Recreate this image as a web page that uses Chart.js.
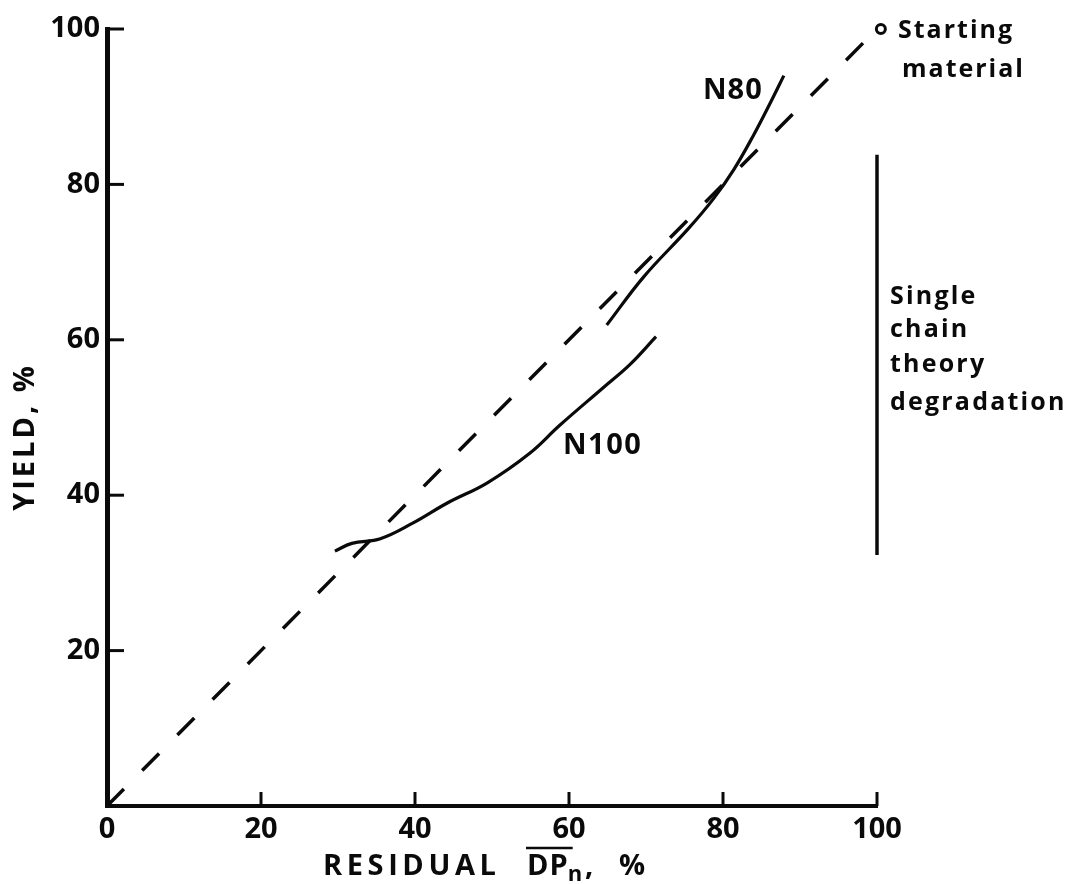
<!DOCTYPE html>
<html>
<head>
<meta charset="utf-8">
<script src="https://cdn.jsdelivr.net/npm/chart.js@4.4.0/dist/chart.umd.min.js"></script>
<style>
  html, body { margin: 0; padding: 0; background: #fff; }
  canvas { display: block; }
</style>
</head>
<body>
<canvas id="c" width="1083" height="884"></canvas>
<script>
// ---- data ----
const xTicks = [0, 20, 40, 60, 80, 100];
const yTicks = [20, 40, 60, 80, 100];

// dashed ideal (random scission) line
const idealX = [0, 100];
const idealY = [0, 100];

// N100 curve
const n100X = [29.6, 31.8, 35.5, 39.7, 44.2, 49.4, 54.9, 58.8, 64.4, 67.9, 71.3];
const n100Y = [32.8, 33.8, 34.4, 36.4, 39.0, 41.6, 45.4, 49.0, 53.8, 56.8, 60.4];

// N80 curve
const n80X = [64.9, 69.7, 75.5, 78.8, 81.4, 84.0, 86.3, 87.9];
const n80Y = [61.9, 68.1, 74.3, 78.2, 81.9, 86.4, 90.8, 94.0];

// single chain theory degradation (vertical bar)
const singleX = [100, 100];
const singleY = [32.3, 83.8];

// starting material point
const startX = [100.5];
const startY = [100];

const toPts = (xs, ys) => xs.map((x, i) => ({ x: x, y: ys[i] }));

const FONT = "'Open Sans', 'DejaVu Sans', sans-serif";
const INK = '#0a0a0a';

function drawSpaced(ctx, text, x, y, spacing) {
  ctx.letterSpacing = spacing + 'px';
  ctx.fillText(text, x, y);
  const w = ctx.measureText(text).width;
  ctx.letterSpacing = '0px';
  return w;
}

const decor = {
  id: 'decor',
  afterDraw(chart) {
    const ctx = chart.ctx;
    const xs = chart.scales.x, ys = chart.scales.y;
    const ca = chart.chartArea;
    ctx.save();
    ctx.strokeStyle = INK;
    ctx.fillStyle = INK;
    ctx.lineCap = 'butt';
    // inward tick marks
    ctx.lineWidth = 3;
    yTicks.forEach(v => {
      const py = ys.getPixelForValue(v);
      ctx.beginPath();
      ctx.moveTo(ca.left, py);
      ctx.lineTo(ca.left + 17, py);
      ctx.stroke();
    });
    xTicks.filter(v => v > 0).forEach(v => {
      const px = xs.getPixelForValue(v);
      ctx.beginPath();
      ctx.moveTo(px, ca.bottom);
      ctx.lineTo(px, ca.bottom - 14);
      ctx.stroke();
    });

    // y axis title
    ctx.save();
    ctx.translate(26, 437);
    ctx.rotate(-Math.PI / 2);
    ctx.font = '700 29px ' + FONT;
    ctx.textAlign = 'center';
    ctx.textBaseline = 'middle';
    ctx.letterSpacing = '3px';
    ctx.fillText('YIELD, %', 0, 0);
    ctx.restore();

    // x axis title: RESIDUAL DP̄n, %
    ctx.textAlign = 'left';
    ctx.textBaseline = 'alphabetic';
    ctx.font = '700 29px ' + FONT;
    const base = 875;
    drawSpaced(ctx, 'RESIDUAL', 323, base, 4.6);
    const dpStart = 527;
    const wdp = drawSpaced(ctx, 'DP', dpStart, base, 1);
    ctx.font = '700 22px ' + FONT;
    drawSpaced(ctx, 'n', dpStart + wdp - 1, base + 6, 0);
    ctx.lineWidth = 2.5;
    ctx.beginPath();
    ctx.moveTo(dpStart - 1, 848);
    ctx.lineTo(dpStart + wdp + 4, 848);
    ctx.stroke();
    ctx.font = '700 29px ' + FONT;
    drawSpaced(ctx, ',', 585, base, 0);
    drawSpaced(ctx, '%', 619, base, 0);

    // curve labels
    ctx.font = '700 29px ' + FONT;
    ctx.textBaseline = 'middle';
    drawSpaced(ctx, 'N80', 703, 91, 1);
    drawSpaced(ctx, 'N100', 563, 446, 1.5);

    // starting material
    ctx.font = '700 25px ' + FONT;
    drawSpaced(ctx, 'Starting', 898, 31, 2);
    drawSpaced(ctx, 'material', 902, 70, 2);

    // single chain theory degradation
    ctx.font = '700 25px ' + FONT;
    const lines = ['Single', 'chain', 'theory', 'degradation'];
    const bases = [297, 330, 365, 403];
    lines.forEach((t, i) => drawSpaced(ctx, t, 890, bases[i], 2.2));
    ctx.restore();
  }
};

new Chart(document.getElementById('c'), {
  type: 'scatter',
  data: {
    datasets: [
      {
        label: 'ideal',
        data: toPts(idealX, idealY),
        showLine: true,
        borderColor: INK,
        borderWidth: 3.5,
        borderDash: [24, 26],
        pointRadius: 0,
        clip: false
      },
      {
        label: 'N100',
        data: toPts(n100X, n100Y),
        showLine: true,
        borderColor: INK,
        borderWidth: 3.2,
        tension: 0.4,
        pointRadius: 0,
        clip: false
      },
      {
        label: 'N80',
        data: toPts(n80X, n80Y),
        showLine: true,
        borderColor: INK,
        borderWidth: 3.2,
        tension: 0.4,
        pointRadius: 0,
        clip: false
      },
      {
        label: 'single chain',
        data: toPts(singleX, singleY),
        showLine: true,
        borderColor: INK,
        borderWidth: 3.5,
        pointRadius: 0,
        clip: false
      },
      {
        label: 'start',
        data: toPts(startX, startY),
        showLine: false,
        pointRadius: 4.5,
        borderWidth: 3,
        borderColor: INK,
        backgroundColor: '#fff',
        clip: false
      }
    ]
  },
  options: {
    responsive: false,
    animation: false,
    devicePixelRatio: 1,
    layout: { padding: { top: 29, right: 206, left: 0, bottom: 0 } },
    plugins: { legend: { display: false }, tooltip: { enabled: false } },
    scales: {
      x: {
        type: 'linear',
        min: 0, max: 100,
        afterBuildTicks: s => { s.ticks = xTicks.map(v => ({ value: v })); },
        afterFit: s => { s.height = 78; },
        grid: { display: false, drawTicks: false },
        border: { display: true, color: INK, width: 4 },
        ticks: {
          color: INK,
          padding: 6,
          maxRotation: 0,
          autoSkip: false,
          font: { family: FONT, size: 29, weight: '700' },
          callback: v => String(v)
        }
      },
      y: {
        type: 'linear',
        min: 0, max: 100,
        afterBuildTicks: s => { s.ticks = yTicks.map(v => ({ value: v })); },
        afterFit: s => { s.width = 107; },
        grid: { display: false, drawTicks: false },
        border: { display: true, color: INK, width: 5 },
        ticks: {
          color: INK,
          padding: 7,
          autoSkip: false,
          font: { family: FONT, size: 29, weight: '700' },
          callback: v => String(v)
        }
      }
    }
  },
  plugins: [decor]
});
</script>
</body>
</html>
